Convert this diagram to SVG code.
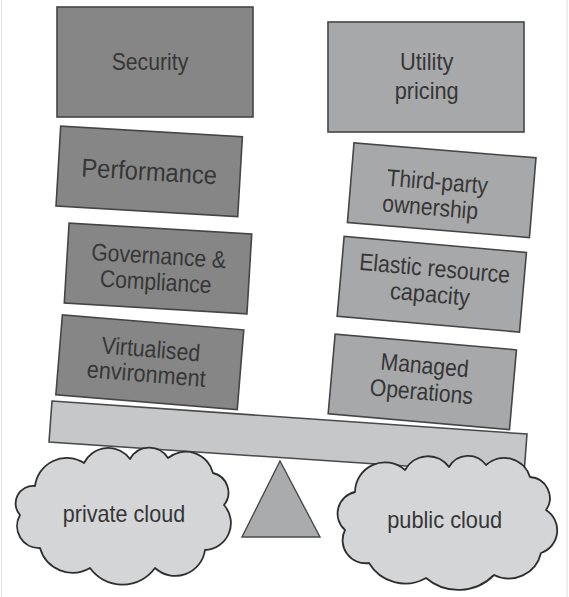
<svg xmlns="http://www.w3.org/2000/svg" width="569" height="597" viewBox="0 0 569 597">
<style>
.dark{fill:#868686;stroke:#454545;stroke-width:1.6}
.light{fill:#a7a8aa;stroke:#454545;stroke-width:1.6}
.plank{fill:#c5c7c8;stroke:#4a4a4a;stroke-width:1.6}
.cloud{fill:#d3d5d6;stroke:#2e2e2e;stroke-width:1.8;stroke-linejoin:round}
.tri{fill:#a9abac;stroke:#4a4a4a;stroke-width:1.4}
text{font-family:"Liberation Sans",Arial,sans-serif;font-size:24px;fill:#363636;text-anchor:middle}
</style>
<rect x="0" y="0" width="569" height="597" fill="#ffffff"/>
<line x1="1.5" y1="0" x2="1.5" y2="597" stroke="#e4e4e4" stroke-width="1"/>
<line x1="567" y1="0" x2="567" y2="597" stroke="#dcdcdc" stroke-width="1"/>

<g id="security">
<rect class="dark" x="57" y="7" width="196" height="110"/>
<text x="150" y="70" textLength="76.7" lengthAdjust="spacingAndGlyphs">Security</text>
</g>
<g id="performance" transform="translate(149.2,171.4) rotate(3.36)">
<rect class="dark" x="-91" y="-40" width="182" height="80"/>
<text x="0" y="9" style="font-size:26px" textLength="135.7" lengthAdjust="spacingAndGlyphs">Performance</text>
</g>
<g id="governance" transform="translate(158,268.5) rotate(3.44)">
<rect class="dark" x="-91.5" y="-40" width="183" height="80"/>
<text x="0" y="-4.5" textLength="135" lengthAdjust="spacingAndGlyphs">Governance &amp;</text>
<text x="-1.5" y="21.5" textLength="111.7" lengthAdjust="spacingAndGlyphs">Compliance</text>
</g>
<g id="virtualised" transform="translate(149.8,362.3) rotate(4.7)">
<rect class="dark" x="-91" y="-40" width="182" height="80"/>
<text x="0" y="-5" textLength="99" lengthAdjust="spacingAndGlyphs">Virtualised</text>
<text x="-2.5" y="20" textLength="119" lengthAdjust="spacingAndGlyphs">environment</text>
</g>

<g id="utility">
<rect class="light" x="328" y="22" width="196" height="110"/>
<text x="426.7" y="70" textLength="53.3" lengthAdjust="spacingAndGlyphs">Utility</text>
<text x="426.7" y="99" textLength="64" lengthAdjust="spacingAndGlyphs">pricing</text>
</g>
<g id="thirdparty" transform="translate(441.7,190.2) rotate(4.7)">
<rect class="light" x="-91.3" y="-40" width="182.6" height="80"/>
<text x="-5" y="0" textLength="101.3" lengthAdjust="spacingAndGlyphs">Third-party</text>
<text x="-10" y="26" textLength="96" lengthAdjust="spacingAndGlyphs">ownership</text>
</g>
<g id="elastic" transform="translate(431.8,284.3) rotate(5)">
<rect class="light" x="-91.5" y="-40" width="183" height="80"/>
<text x="1.5" y="-8" textLength="151.3" lengthAdjust="spacingAndGlyphs">Elastic resource</text>
<text x="-1" y="18" textLength="80" lengthAdjust="spacingAndGlyphs">capacity</text>
</g>
<g id="managed" transform="translate(422.3,381.8) rotate(5)">
<rect class="light" x="-91" y="-40" width="182" height="80"/>
<text x="1" y="-8.5" textLength="88.3" lengthAdjust="spacingAndGlyphs">Managed</text>
<text x="0" y="18" textLength="103.3" lengthAdjust="spacingAndGlyphs">Operations</text>
</g>

<g id="plank">
<polygon class="plank" points="52,401 527,434 524,474 49,442"/>
</g>
<g id="fulcrum">
<polygon class="tri" points="280,461 242,537 320,537"/>
</g>
<g id="private-cloud">
<path class="cloud" d="M35,486 A32,32 0 0 1 84,463 A27,27 0 0 1 130,459 A22,22 0 0 1 168,458 A28,28 0 0 1 213,473 A20,20 0 0 1 224,505 A27,27 0 0 1 205,550 A30,30 0 0 1 155,568 A40,40 0 0 1 90,568 A34,34 0 0 1 40,548 A22,22 0 0 1 20,515 A17.5,17.5 0 0 1 35,486 Z"/>
<text x="124" y="522" textLength="122.3" lengthAdjust="spacingAndGlyphs">private cloud</text>
</g>
<g id="public-cloud">
<path class="cloud" d="M355,492 A30,30 0 0 1 405,470 A26,26 0 0 1 449,467 A22,22 0 0 1 486,465 A27,27 0 0 1 530,477 A21,21 0 0 1 546,510 A24,24 0 0 1 541,553 A33,33 0 0 1 494,575 A50,50 0 0 1 426,578 A42,42 0 0 1 369,563 A23,23 0 0 1 345,530 A22,22 0 0 1 355,492 Z"/>
<text x="444.7" y="528" textLength="115" lengthAdjust="spacingAndGlyphs">public cloud</text>
</g>
<g id="connectors"></g>
</svg>
